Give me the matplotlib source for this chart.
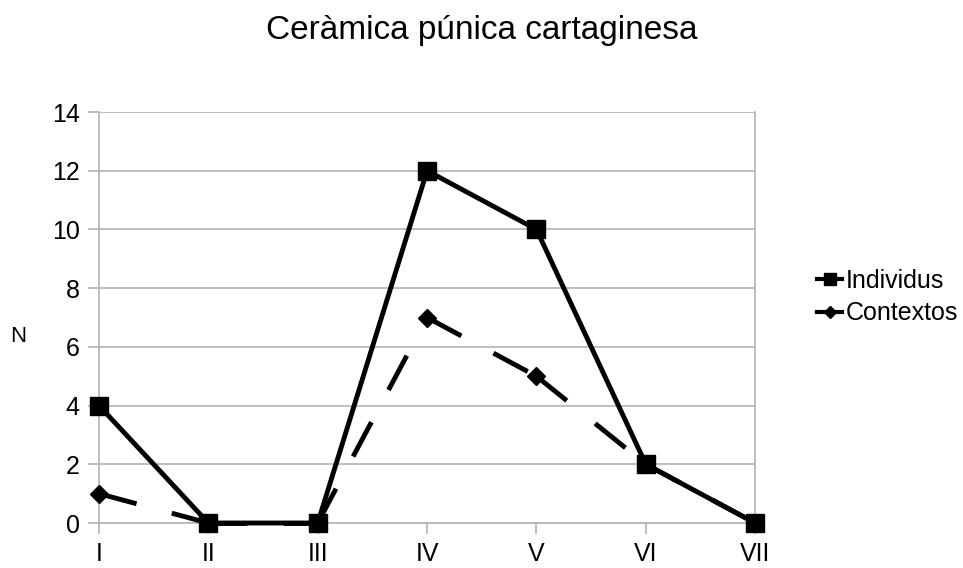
import matplotlib.pyplot as plt

plt.rcParams['font.family'] = ['Liberation Sans', 'DejaVu Sans']

# Periods and counts
periodes = ['I', 'II', 'III', 'IV', 'V', 'VI', 'VII']
individus = [4, 0, 0, 12, 10, 2, 0]
contextos = [1, 0, 0, 7, 5, 2, 0]

fig = plt.figure(figsize=(9.63, 5.68), dpi=100)
ax = fig.add_axes([0.1028, 0.0792, 0.6814, 0.7236])

x = list(range(len(periodes)))

# dashed line restarts its pattern on every segment
for i in range(len(x) - 1):
    ax.plot(x[i:i + 2], contextos[i:i + 2], color='black', linewidth=3.5,
            dashes=(8, 7.5), solid_capstyle='butt', zorder=3, clip_on=False)
ax.plot(x, contextos, linestyle='none', color='black', marker='D',
        markersize=9.5, zorder=3, clip_on=False)
ax.plot(x, individus, color='black', linewidth=3.5, marker='s', markersize=13,
        zorder=4, clip_on=False)

ax.set_xlim(0, len(periodes) - 1)
ax.set_ylim(0, 14)
ax.set_yticks(range(0, 15, 2))
ax.set_xticks(x)
ax.set_xticklabels(periodes)

grey = '#b3b3b3'
ax.yaxis.grid(True, color=grey, linewidth=1.2)
for side in ['left', 'right', 'bottom']:
    ax.spines[side].set_color(grey)
    ax.spines[side].set_linewidth(1.2)
ax.spines['top'].set_visible(False)
ax.tick_params(axis='both', colors=grey, labelcolor='black', labelsize=18,
               length=8, width=1.2, pad=6)

fig.text(18 / 963, 1 - 337 / 568, 'N', fontsize=16, ha='center', va='center')
fig.text(0.5, 1 - 39 / 568, 'Ceràmica púnica cartaginesa', ha='center',
         va='baseline', fontsize=24)

# legend entries: short solid line with the series marker
h1, = ax.plot([], [], color='black', linewidth=3, marker='s', markersize=8)
h2, = ax.plot([], [], color='black', linewidth=3, marker='D', markersize=6)
fig.legend([h1, h2], ['Individus', 'Contextos'], loc='center left',
           bbox_to_anchor=(817 / 963, 1 - 297 / 568), frameon=False,
           fontsize=18, handlelength=1.0, handletextpad=0.15,
           labelspacing=0.35, borderpad=0, borderaxespad=0)

fig.savefig('out.png', dpi=100)
